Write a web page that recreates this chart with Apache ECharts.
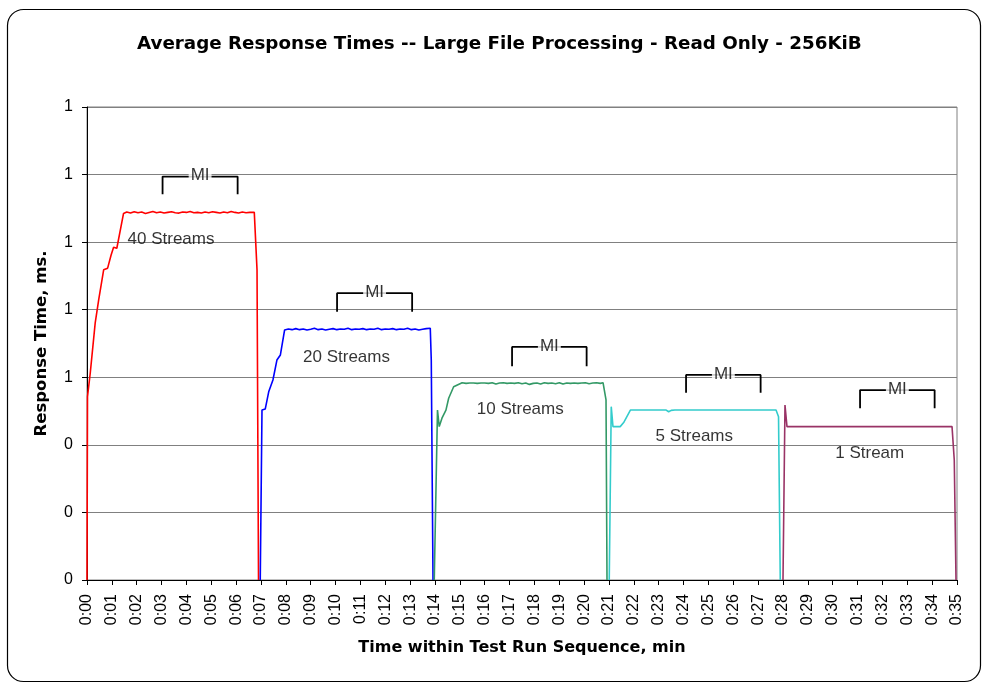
<!DOCTYPE html>
<html><head><meta charset="utf-8">
<script src="https://cdn.jsdelivr.net/npm/echarts@6/dist/echarts.min.js"></script>
<style>html,body{margin:0;padding:0;background:#fff}#c{width:982px;height:683px}</style>
</head><body><div id="c"></div>
<script>
const chartTitle = 'Average Response Times -- Large File Processing - Read Only - 256KiB';
const xAxisTitle = 'Time within Test Run Sequence, min';
const yAxisTitle = 'Response Time, ms.';
const seriesNames = ['40 Streams', '20 Streams', '10 Streams', '5 Streams', '1 Stream'];
const seriesColors = ['#ff0000', '#0000ff', '#339966', '#33cccc', '#993366'];

// [time (min), response time (ms)]
const s40 = [[0,0],[0.02,0.543],[0.13,0.612],[0.33,0.761],[0.47,0.829],[0.67,0.918],[0.83,0.923],[0.97,0.962],[1.07,0.985],[1.2,0.982],[1.47,1.085],[1.6,1.089],[1.75,1.086],[1.9,1.09],[2.05,1.087],[2.2,1.089],[2.35,1.085],[2.5,1.088],[2.65,1.091],[2.8,1.087],[2.95,1.089],[3.1,1.086],[3.25,1.088],[3.4,1.09],[3.55,1.087],[3.7,1.086],[3.85,1.089],[4.0,1.088],[4.15,1.091],[4.3,1.087],[4.45,1.088],[4.6,1.086],[4.75,1.089],[4.9,1.087],[5.05,1.09],[5.2,1.088],[5.35,1.086],[5.5,1.089],[5.65,1.087],[5.8,1.091],[5.95,1.088],[6.1,1.086],[6.25,1.089],[6.4,1.087],[6.55,1.088],[6.73,1.088],[6.84,0.918],[6.9,0]];
const s20 = [[6.97,0],[7.04,0.503],[7.17,0.506],[7.31,0.557],[7.48,0.592],[7.64,0.651],[7.78,0.666],[7.95,0.74],[8.1,0.743],[8.25,0.741],[8.4,0.744],[8.55,0.741],[8.7,0.743],[8.85,0.74],[9.0,0.742],[9.15,0.745],[9.3,0.741],[9.45,0.743],[9.6,0.74],[9.75,0.742],[9.9,0.744],[10.05,0.741],[10.2,0.743],[10.35,0.742],[10.5,0.745],[10.65,0.741],[10.8,0.743],[10.95,0.742],[11.1,0.744],[11.25,0.741],[11.4,0.743],[11.55,0.742],[11.7,0.745],[11.85,0.741],[12.0,0.743],[12.15,0.742],[12.3,0.744],[12.45,0.741],[12.6,0.743],[12.75,0.742],[12.9,0.745],[13.05,0.741],[13.2,0.743],[13.35,0.74],[13.5,0.742],[13.65,0.744],[13.81,0.745],[13.85,0.651],[13.92,0]];
const s10 = [[13.97,0],[14.1,0.503],[14.17,0.454],[14.28,0.479],[14.44,0.503],[14.55,0.538],[14.75,0.572],[15.09,0.584],[15.25,0.582],[15.4,0.583],[15.55,0.583],[15.7,0.582],[15.85,0.583],[16.0,0.583],[16.15,0.582],[16.3,0.584],[16.45,0.58],[16.6,0.583],[16.75,0.584],[16.9,0.582],[17.05,0.583],[17.2,0.582],[17.35,0.584],[17.5,0.581],[17.65,0.583],[17.8,0.579],[17.95,0.582],[18.1,0.583],[18.25,0.58],[18.4,0.584],[18.55,0.582],[18.7,0.583],[18.85,0.581],[19.0,0.584],[19.15,0.58],[19.3,0.583],[19.45,0.582],[19.6,0.583],[19.75,0.582],[19.9,0.583],[20.05,0.584],[20.2,0.581],[20.35,0.583],[20.5,0.584],[20.65,0.582],[20.76,0.584],[20.88,0.533],[20.92,0]];
const s5 = [[21.01,0],[21.09,0.513],[21.16,0.454],[21.45,0.454],[21.59,0.466],[21.66,0.47],[21.86,0.503],[22.2,0.503],[22.6,0.503],[23.0,0.503],[23.3,0.503],[23.4,0.498],[23.5,0.502],[23.58,0.499],[23.65,0.503],[24.0,0.503],[24.5,0.503],[25.0,0.503],[25.5,0.503],[26.0,0.503],[26.5,0.503],[27.0,0.503],[27.4,0.503],[27.72,0.503],[27.82,0.483],[27.89,0]];
const s1 = [[28.0,0],[28.08,0.518],[28.16,0.454],[29.0,0.454],[30.0,0.454],[31.0,0.454],[32.0,0.454],[33.0,0.454],[34.0,0.454],[34.8,0.454],[34.89,0.355],[34.96,0]];

// measurement-interval (MI) brackets, in axis units
const miStart = [3.04, 10.06, 17.1, 24.1, 31.1];
const miEnd = [6.06, 13.08, 20.1, 27.1, 34.1];
const miTop = [1.194, 0.849, 0.690, 0.607, 0.562];
const miBottom = [1.142, 0.794, 0.633, 0.554, 0.508];

// stream-count label anchors, in axis units
const labelT = [3.38, 10.44, 17.43, 24.43, 31.49];
const labelV = [1.008, 0.659, 0.505, 0.424, 0.375];

const xMin = 0, xMax = 35, xStep = 1;
const yMin = 0, yMax = 1.4, yStep = 0.2;

const FONT = 'Liberation Sans, Arial, sans-serif';
const BFONT = 'DejaVu Sans, Liberation Sans, sans-serif';
const allSeries = [s40, s20, s10, s5, s1];

const series = [];
allSeries.forEach((d, i) => {
  series.push({
    name: seriesNames[i], type: 'line', data: d, showSymbol: false, symbol: 'none',
    lineStyle: { color: seriesColors[i], width: 1.6 }, itemStyle: { color: seriesColors[i] },
    z: 3, silent: true
  });
});
miStart.forEach((s, i) => {
  series.push({
    type: 'line', data: [[s, miBottom[i]], [s, miTop[i]], [miEnd[i], miTop[i]], [miEnd[i], miBottom[i]]],
    showSymbol: false, symbol: 'none', lineStyle: { color: '#000', width: 1.8 }, z: 4, silent: true
  });
});
series.push({
  type: 'scatter', symbolSize: 1, itemStyle: { color: 'rgba(0,0,0,0)' }, z: 6, silent: true,
  data: miStart.map((s, i) => [(s + miEnd[i]) / 2, miTop[i]]),
  label: { show: true, position: 'inside', formatter: 'MI', color: '#000', fontSize: 17, fontFamily: FONT,
    backgroundColor: '#fff', padding: [1, 2, 1, 2], offset: [0, -1] }
});
series.push({
  type: 'scatter', symbolSize: 1, itemStyle: { color: 'rgba(0,0,0,0)' }, z: 6, silent: true,
  data: labelT.map((t, i) => ({ value: [t, labelV[i]], name: seriesNames[i] })),
  label: { show: true, position: 'inside', formatter: p => p.name, color: '#000', fontSize: 17, fontFamily: FONT }
});

const chart = echarts.init(document.getElementById('c'), null, { renderer: 'canvas' });
chart.setOption({
  animation: false,
  backgroundColor: '#fff',
  title: {
    text: chartTitle, left: 132, top: 30, padding: 5,
    textStyle: { fontSize: 18.3, fontWeight: 'bold', color: '#000', fontFamily: BFONT }
  },
  grid: { left: 87, right: 25, top: 107, bottom: 103, show: true, borderColor: '#808080', borderWidth: 1, backgroundColor: '#fff' },
  xAxis: {
    type: 'value', min: xMin, max: xMax, interval: xStep,
    name: xAxisTitle, nameLocation: 'middle', nameGap: 60,
    nameTextStyle: { fontSize: 16, fontWeight: 'bold', color: '#000', fontFamily: BFONT },
    axisLine: { show: true, onZero: false, lineStyle: { color: '#000', width: 1 } },
    axisTick: { show: true, inside: false, length: 5, lineStyle: { color: '#000' } },
    axisLabel: { rotate: 90, margin: 14, fontSize: 16, color: '#000', fontFamily: FONT,
      formatter: v => '0:' + String(Math.round(v)).padStart(2, '0') },
    splitLine: { show: false }
  },
  yAxis: {
    type: 'value', min: yMin, max: yMax, interval: yStep,
    name: yAxisTitle, nameLocation: 'middle', nameGap: 37,
    nameTextStyle: { fontSize: 16.5, fontWeight: 'bold', color: '#000', fontFamily: BFONT },
    axisLine: { show: true, lineStyle: { color: '#000', width: 1 } },
    axisTick: { show: true, inside: false, length: 5, lineStyle: { color: '#000' } },
    axisLabel: { margin: 14, fontSize: 16, color: '#000', fontFamily: FONT, formatter: v => v.toFixed(0) },
    splitLine: { show: true, lineStyle: { color: '#808080', width: 1 } }
  },
  graphic: [{
    type: 'rect', silent: true, z: 100,
    shape: { x: 7.5, y: 9.5, width: 973, height: 672, r: 16 },
    style: { fill: 'none', stroke: '#000', lineWidth: 1.2 }
  }],
  series: series
});
</script></body></html>
